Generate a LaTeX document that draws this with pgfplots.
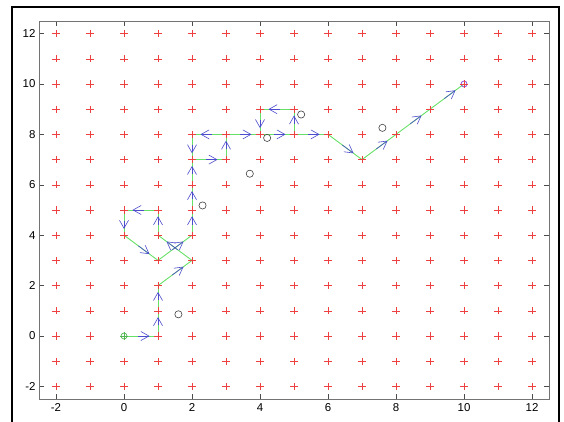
\documentclass[border=0pt]{standalone}
\usepackage{pgfplots}
\pgfplotsset{compat=1.18}
\usepackage{pgfplotstable}
\usepackage{fontspec}
\setmainfont{Liberation Sans}
\usetikzlibrary{arrows.meta}
\definecolor{gridred}{rgb}{0.93,0.25,0.25}
\definecolor{pathgreen}{rgb}{0.4,0.88,0.4}
\definecolor{arrowblue}{rgb}{0.3,0.3,0.8}
\definecolor{goalc}{rgb}{0.55,0.3,0.85}

\pgfplotstableread{
x y u v
0 0 1 0
1 0 0 1
1 1 0 1
1 2 1 1
2 3 -1 1
1 4 0 1
1 5 -1 0
0 5 0 -1
0 4 1 -1
1 3 1 1
2 4 0 1
2 5 0 1
2 6 0 1
2 7 1 0
3 7 0 1
3 8 -1 0
2 8 0 -1
3 8 1 0
4 9 0 -1
5 9 -1 0
5 8 0 1
4 8 1 0
5 8 1 0
6 8 1 -1
7 7 1 1
8 8 1 1
9 9 1 1
}\segs

\pgfplotstableread{
x y
1.60 0.86
2.31 5.18
3.70 6.44
4.21 7.86
5.21 8.79
7.60 8.26
}\obst

\begin{document}
\begin{tikzpicture}[x=1bp,y=1bp]
\useasboundingbox (0,0) rectangle (564,421);
\draw[line width=1.6bp] (12,-2) -- (12,414) -- (559,414) -- (559,-2);
\begin{axis}[at={(39bp,22bp)}, anchor=south west,
  width=510bp, height=378bp, scale only axis,
  xmin=-2.5, xmax=12.5, ymin=-2.5, ymax=12.5,
  xtick={-2,0,...,12}, ytick={-2,0,...,12},
  tick align=inside, major tick length=5bp,
  axis line style={black!55, line width=0.8bp},
  every tick/.style={black!70, line width=0.6bp},
  tick label style={font=\fontsize{11.5}{13}\selectfont},
  /pgf/number format/assume math mode=true,
  xticklabel style={yshift=-1bp},
  clip=false]
\addplot[only marks, mark=+, mark size=3.6bp, gridred, mark options={line width=0.5bp}] coordinates {
(-2,-2)(-1,-2)(0,-2)(1,-2)(2,-2)(3,-2)(4,-2)(5,-2)(6,-2)(7,-2)(8,-2)(9,-2)(10,-2)(11,-2)(12,-2)
(-2,-1)(-1,-1)(0,-1)(1,-1)(2,-1)(3,-1)(4,-1)(5,-1)(6,-1)(7,-1)(8,-1)(9,-1)(10,-1)(11,-1)(12,-1)
(-2,0)(-1,0)(0,0)(1,0)(2,0)(3,0)(4,0)(5,0)(6,0)(7,0)(8,0)(9,0)(10,0)(11,0)(12,0)
(-2,1)(-1,1)(0,1)(1,1)(2,1)(3,1)(4,1)(5,1)(6,1)(7,1)(8,1)(9,1)(10,1)(11,1)(12,1)
(-2,2)(-1,2)(0,2)(1,2)(2,2)(3,2)(4,2)(5,2)(6,2)(7,2)(8,2)(9,2)(10,2)(11,2)(12,2)
(-2,3)(-1,3)(0,3)(1,3)(2,3)(3,3)(4,3)(5,3)(6,3)(7,3)(8,3)(9,3)(10,3)(11,3)(12,3)
(-2,4)(-1,4)(0,4)(1,4)(2,4)(3,4)(4,4)(5,4)(6,4)(7,4)(8,4)(9,4)(10,4)(11,4)(12,4)
(-2,5)(-1,5)(0,5)(1,5)(2,5)(3,5)(4,5)(5,5)(6,5)(7,5)(8,5)(9,5)(10,5)(11,5)(12,5)
(-2,6)(-1,6)(0,6)(1,6)(2,6)(3,6)(4,6)(5,6)(6,6)(7,6)(8,6)(9,6)(10,6)(11,6)(12,6)
(-2,7)(-1,7)(0,7)(1,7)(2,7)(3,7)(4,7)(5,7)(6,7)(7,7)(8,7)(9,7)(10,7)(11,7)(12,7)
(-2,8)(-1,8)(0,8)(1,8)(2,8)(3,8)(4,8)(5,8)(6,8)(7,8)(8,8)(9,8)(10,8)(11,8)(12,8)
(-2,9)(-1,9)(0,9)(1,9)(2,9)(3,9)(4,9)(5,9)(6,9)(7,9)(8,9)(9,9)(10,9)(11,9)(12,9)
(-2,10)(-1,10)(0,10)(1,10)(2,10)(3,10)(4,10)(5,10)(6,10)(7,10)(8,10)(9,10)(10,10)(11,10)(12,10)
(-2,11)(-1,11)(0,11)(1,11)(2,11)(3,11)(4,11)(5,11)(6,11)(7,11)(8,11)(9,11)(10,11)(11,11)(12,11)
(-2,12)(-1,12)(0,12)(1,12)(2,12)(3,12)(4,12)(5,12)(6,12)(7,12)(8,12)(9,12)(10,12)(11,12)(12,12)
};
% green path segments
\addplot[pathgreen, line width=0.9bp, quiver={u=\thisrow{u}, v=\thisrow{v}}] table {\segs};
% blue direction arrows
\addplot[arrowblue, line width=0.6bp,
  quiver={u=\thisrow{u}, v=\thisrow{v}, scale arrows=0.33},
  -{Straight Barb[length=8bp,width=9bp]}]
  table[x expr=\thisrow{x}+0.42*\thisrow{u}, y expr=\thisrow{y}+0.42*\thisrow{v}] {\segs};
% obstacles
\addplot[only marks, mark=o, mark size=3.6bp, black!75, mark options={line width=0.6bp}] table {\obst};
% start
\addplot[only marks, mark=o, mark size=3bp, pathgreen!80!black, mark options={line width=0.7bp}] coordinates {(0,0)};
\addplot[only marks, mark=+, mark size=3.6bp, pathgreen!80!black, mark options={line width=0.7bp}] coordinates {(0,0)};
% goal
\addplot[only marks, mark=o, mark size=3bp, goalc, mark options={line width=0.8bp}] coordinates {(10,10)};
\addplot[only marks, mark=+, mark size=3.6bp, gridred, mark options={line width=0.5bp}] coordinates {(10,10)};
\end{axis}
\end{tikzpicture}
\end{document}
